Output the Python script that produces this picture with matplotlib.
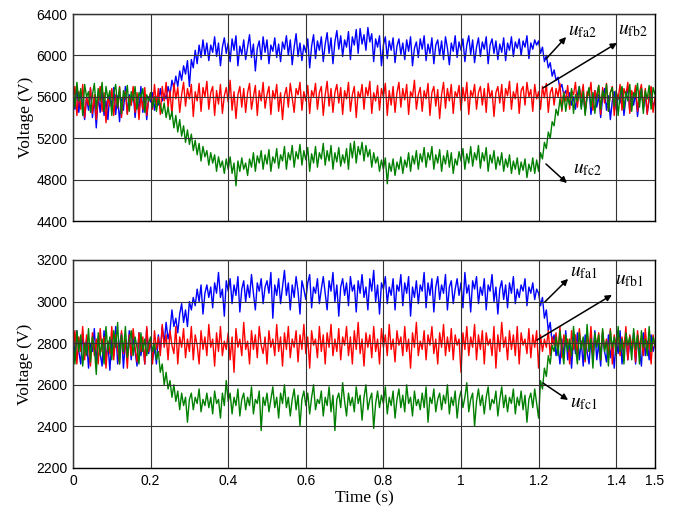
import numpy as np
import matplotlib
matplotlib.use("Agg")
import matplotlib.pyplot as plt

plt.rcParams['font.family'] = ['Liberation Sans', 'DejaVu Sans']
plt.rcParams['mathtext.fontset'] = 'stix'

# sample times (s), one sample every 5 ms
t = np.linspace(0, 1.5, 301)

# upper string capacitor voltages (V)
ufa2 = [
    5620, 5480, 5700, 5450, 5650, 5520, 5380, 5600, 5470, 5680,
    5400, 5590, 5300, 5620, 5450, 5660, 5420, 5560, 5380, 5640,
    5500, 5690, 5430, 5610, 5360, 5580, 5470, 5700, 5440, 5620,
    5520, 5660, 5400, 5590, 5480, 5700, 5450, 5620, 5380, 5600,
    5550, 5640, 5470, 5600, 5520, 5680, 5560, 5630, 5580, 5700,
    5620, 5760, 5680, 5800, 5700, 5850, 5760, 5900, 5820, 5950,
    5700, 5960, 5880, 6050, 5920, 6100, 5980, 6150, 6000, 6120,
    5950, 6100, 6030, 6180, 5990, 6120, 5900, 6080, 6170, 6020,
    6120, 5940, 6160, 6050, 6190, 5900, 6090, 6010, 6150, 5960,
    6080, 6200, 5980, 6110, 5850, 6070, 6140, 5960, 6180, 6030,
    6150, 5920, 6100, 6040, 6170, 5980, 6110, 5940, 6130, 6060,
    6190, 6000, 6150, 5910, 6080, 6210, 5990, 6120, 5950, 6100,
    6030, 6160, 5880, 6090, 6200, 5970, 6140, 6050, 6180, 5940,
    6110, 6220, 6020, 6170, 5920, 6130, 6240, 6060, 6190, 5990,
    6150, 6080, 6230, 5960, 6180, 6100, 6250, 6020, 6260, 6110,
    6200, 6050, 6270, 6130, 6210, 5940, 6160, 6080, 6190, 5900,
    6100, 6180, 5970, 6140, 6050, 6170, 5930, 6090, 6160, 6010,
    6120, 5960, 6150, 6040, 6180, 5900, 6070, 6130, 5980, 6160,
    6060, 6190, 5950, 6110, 6020, 6170, 5920, 6100, 6150, 6000,
    6140, 5960, 6180, 6070, 5910, 6120, 6040, 6190, 5980, 6130,
    6050, 6160, 5940, 6100, 6190, 6010, 6150, 5930, 6080, 6170,
    5990, 6130, 6060, 6180, 5920, 6100, 6160, 6020, 6140, 5960,
    6110, 6030, 6170, 5950, 6120, 6050, 6180, 5990, 6130, 6070,
    6160, 6000, 6140, 6080, 6190, 5970, 6120, 6060, 6150, 6100,
    6140, 6020, 6080, 5940, 6000, 5880, 5930, 5800, 5860, 5760,
    5790, 5680, 5720, 5620, 5660, 5560, 5640, 5520, 5600, 5480,
    5620, 5700, 5500, 5640, 5460, 5600, 5680, 5430, 5580, 5660,
    5500, 5620, 5400, 5590, 5680, 5470, 5610, 5380, 5560, 5650,
    5480, 5620, 5540, 5680, 5420, 5590, 5700, 5460, 5610, 5520,
    5640, 5410, 5590, 5680, 5480, 5620, 5440, 5570, 5690, 5500,
    5560,
]
ufb2 = [
    5560, 5700, 5420, 5650, 5480, 5720, 5400, 5600, 5520, 5690,
    5440, 5620, 5380, 5580, 5700, 5460, 5640, 5350, 5600, 5510,
    5680, 5420, 5620, 5490, 5700, 5400, 5590, 5650, 5430, 5600,
    5520, 5700, 5450, 5640, 5380, 5610, 5480, 5690, 5420, 5580,
    5640, 5480, 5720, 5520, 5680, 5430, 5700, 5560, 5740, 5500,
    5660, 5420, 5730, 5580, 5690, 5450, 5620, 5740, 5510, 5680,
    5580, 5720, 5410, 5650, 5560, 5730, 5460, 5690, 5600, 5750,
    5480, 5640, 5700, 5420, 5660, 5530, 5720, 5440, 5610, 5690,
    5550, 5760, 5470, 5650, 5390, 5620, 5700, 5500, 5680, 5450,
    5640, 5730, 5480, 5600, 5710, 5420, 5660, 5560, 5740, 5490,
    5620, 5700, 5430, 5660, 5580, 5720, 5460, 5640, 5380, 5610,
    5690, 5500, 5730, 5590, 5450, 5680, 5620, 5740, 5470, 5650,
    5560, 5710, 5440, 5660, 5600, 5730, 5480, 5640, 5700, 5420,
    5620, 5750, 5510, 5680, 5450, 5640, 5720, 5540, 5690, 5430,
    5660, 5580, 5740, 5460, 5620, 5700, 5400, 5650, 5590, 5720,
    5480, 5690, 5610, 5750, 5440, 5640, 5560, 5710, 5470, 5680,
    5600, 5730, 5420, 5660, 5520, 5700, 5450, 5640, 5740, 5500,
    5680, 5570, 5720, 5430, 5650, 5600, 5760, 5480, 5620, 5690,
    5460, 5660, 5580, 5730, 5420, 5640, 5700, 5510, 5670, 5390,
    5620, 5740, 5490, 5680, 5560, 5720, 5440, 5650, 5600, 5710,
    5470, 5690, 5560, 5740, 5430, 5660, 5600, 5720, 5480, 5640,
    5700, 5520, 5680, 5450, 5730, 5590, 5660, 5410, 5640, 5700,
    5540, 5720, 5460, 5680, 5610, 5750, 5480, 5650, 5580, 5730,
    5440, 5660, 5700, 5520, 5740, 5600, 5670, 5460, 5720, 5580,
    5650, 5480, 5700, 5590, 5730, 5450, 5640, 5690, 5520, 5680,
    5600, 5730, 5460, 5650, 5560, 5710, 5480, 5660, 5620, 5740,
    5500, 5680, 5590, 5720, 5440, 5650, 5610, 5740, 5470, 5660,
    5580, 5710, 5430, 5690, 5540, 5730, 5460, 5640, 5700, 5420,
    5650, 5580, 5720, 5470, 5680, 5610, 5740, 5440, 5660, 5590,
    5710, 5460, 5640, 5720, 5500, 5680, 5430, 5620, 5700, 5450,
    5600,
]
ufc2 = [
    5700, 5500, 5740, 5560, 5680, 5420, 5720, 5600, 5650, 5450,
    5620, 5730, 5480, 5680, 5560, 5740, 5460, 5700, 5580, 5660,
    5420, 5640, 5720, 5500, 5690, 5440, 5660, 5580, 5710, 5460,
    5650, 5560, 5700, 5480, 5640, 5600, 5680, 5450, 5620, 5560,
    5640, 5500, 5600, 5460, 5580, 5520, 5440, 5540, 5400, 5500,
    5380, 5460, 5300, 5420, 5260, 5380, 5220, 5320, 5160, 5280,
    5140, 5240, 5080, 5180, 5040, 5150, 4980, 5120, 5020, 5080,
    4940, 5060, 4960, 5040, 4880, 5020, 4920, 4980, 4860, 5000,
    4900, 5020, 4860, 4960, 4740, 4980, 4880, 5010, 4900, 4960,
    4840, 5000, 4920, 5060, 4880, 5030, 4960, 5080, 4900, 5040,
    4950, 5090, 4880, 5020, 4960, 5100, 4910, 5040, 4980, 5120,
    4900, 5060, 4990, 5130, 4920, 5070, 5000, 5140, 4940, 5080,
    4990, 5110, 4880, 5050, 4960, 5120, 4920, 5060, 5000, 5150,
    4940, 5080, 4980, 5130, 4900, 5060, 4970, 5110, 4930, 5040,
    4960, 5100, 4900, 5150, 5010, 5170, 4960, 5120, 5040, 5160,
    4980, 5130, 5020, 5090, 4920, 5060, 4960, 5020, 4880, 4990,
    4900, 5010, 4760, 4960, 4880, 5000, 4840, 4970, 4900, 5020,
    4860, 4990, 4920, 5060, 4880, 5030, 4950, 5080, 4900, 5050,
    4970, 5110, 4920, 5060, 4990, 5120, 4900, 5040, 4960, 5090,
    4880, 5030, 4950, 5080, 4920, 5060, 4860, 5000, 4940, 5070,
    4980, 5100, 4900, 5050, 4960, 5120, 4930, 5060, 4990, 5130,
    4910, 5060, 4980, 5110, 4880, 5040, 4960, 5080, 4900, 5020,
    4940, 5060, 4880, 5000, 4920, 5040, 4860, 4980, 4900, 5010,
    4850, 4970, 4890, 5000, 4820, 4950, 4880, 5010, 4860, 4990,
    4880, 5060, 5000, 5160, 5100, 5260, 5200, 5360, 5320, 5480,
    5420, 5580, 5480, 5640, 5460, 5600, 5520, 5680, 5440, 5620,
    5560, 5700, 5480, 5650, 5420, 5600, 5690, 5500, 5640, 5440,
    5620, 5710, 5480, 5660, 5580, 5720, 5460, 5640, 5690, 5510,
    5660, 5420, 5620, 5700, 5480, 5650, 5560, 5720, 5460, 5640,
    5600, 5730, 5500, 5680, 5440, 5660, 5580, 5710, 5480, 5690,
    5620,
]

# lower string capacitor voltages (V)
ufa1 = [
    2880, 2720, 2860, 2760, 2700, 2850, 2740, 2820, 2680, 2800,
    2760, 2870, 2700, 2830, 2750, 2690, 2860, 2720, 2800, 2670,
    2820, 2740, 2880, 2700, 2790, 2850, 2680, 2810, 2740, 2860,
    2720, 2830, 2760, 2690, 2850, 2740, 2800, 2700, 2870, 2750,
    2810, 2720, 2780, 2700, 2840, 2760, 2880, 2800, 2900, 2820,
    2860, 2960, 2880, 2920, 2850, 2940, 2990, 2900, 2960, 2880,
    3000, 2960, 3020, 2980, 3060, 3000, 3080, 2940, 3040, 3080,
    3020, 3070, 2970, 3090, 3040, 3140, 3020, 3060, 2930, 3100,
    3050, 3110, 2990, 3080, 3030, 3120, 2950, 3060, 3100, 3000,
    3080, 3020, 3130, 3040, 2960, 3090, 3050, 3110, 2990, 3070,
    3100, 3040, 3140, 2920, 3080, 3030, 3110, 2990, 3070, 3150,
    3030, 3090, 2960, 3080, 3020, 3120, 3050, 2940, 3100, 3060,
    3010, 3090, 3130, 2970, 3070, 3040, 3110, 2990, 3060, 3120,
    3040, 2960, 3100, 3050, 3140, 3000, 3080, 2930, 3070, 3110,
    3030, 3090, 2980, 3120, 3050, 3080, 2950, 3100, 3040, 3130,
    3020, 3070, 2960, 3110, 3050, 3150, 3000, 3080, 2940, 3090,
    3060, 3120, 2990, 3070, 3030, 3110, 2960, 3080, 3050, 3130,
    2980, 3090, 3040, 3120, 2930, 3070, 3020, 3100, 2990, 3080,
    3050, 3140, 2970, 3090, 3030, 3110, 2950, 3070, 3120, 3010,
    3080, 3040, 3130, 2960, 3070, 3100, 2990, 3060, 3110, 3030,
    3090, 2970, 3140, 3040, 3080, 2950, 3100, 3060, 3120, 2990,
    3070, 3030, 3110, 2960, 3080, 3050, 3130, 3000, 3070, 2940,
    3060, 3100, 3010, 3080, 2970, 3090, 3040, 3120, 2990, 3060,
    3020, 3080, 3050, 3110, 2980, 3070, 3040, 3090, 3010, 3060,
    3040, 2980, 3020, 2920, 2960, 2860, 2900, 2800, 2840, 2740,
    2790, 2700, 2820, 2740, 2860, 2720, 2800, 2680, 2830, 2750,
    2850, 2720, 2810, 2690, 2840, 2760, 2700, 2830, 2740, 2860,
    2720, 2800, 2690, 2850, 2760, 2710, 2840, 2730, 2800, 2680,
    2820, 2750, 2860, 2700, 2790, 2840, 2720, 2810, 2760, 2850,
    2700, 2830, 2770, 2690, 2850, 2740, 2810, 2720, 2840, 2760,
    2800,
]
ufb1 = [
    2760, 2860, 2700, 2830, 2760, 2880, 2720, 2840, 2780, 2690,
    2850, 2740, 2820, 2700, 2870, 2760, 2830, 2680, 2810, 2750,
    2880, 2720, 2840, 2770, 2700, 2860, 2750, 2820, 2680, 2840,
    2740, 2870, 2780, 2710, 2850, 2760, 2830, 2700, 2880, 2760,
    2820, 2700, 2860, 2770, 2830, 2740, 2890, 2780, 2840, 2720,
    2860, 2790, 2750, 2880, 2700, 2830, 2780, 2870, 2730, 2820,
    2760, 2880, 2720, 2840, 2790, 2700, 2860, 2770, 2830, 2740,
    2890, 2780, 2820, 2690, 2850, 2760, 2880, 2740, 2810, 2770,
    2850, 2720, 2830, 2660, 2870, 2780, 2820, 2740, 2900, 2770,
    2810, 2700, 2860, 2770, 2840, 2730, 2880, 2790, 2750, 2830,
    2700, 2860, 2780, 2820, 2740, 2890, 2760, 2830, 2690, 2850,
    2770, 2880, 2730, 2820, 2780, 2860, 2710, 2840, 2770, 2890,
    2750, 2830, 2680, 2860, 2790, 2820, 2730, 2880, 2760, 2840,
    2700, 2850, 2780, 2890, 2740, 2820, 2760, 2870, 2720, 2830,
    2790, 2880, 2740, 2830, 2700, 2860, 2770, 2900, 2750, 2820,
    2690, 2850, 2780, 2840, 2730, 2880, 2760, 2820, 2700, 2870,
    2780, 2840, 2740, 2890, 2770, 2820, 2710, 2860, 2790, 2830,
    2740, 2880, 2760, 2820, 2680, 2850, 2780, 2900, 2740, 2810,
    2770, 2860, 2720, 2840, 2790, 2880, 2750, 2820, 2700, 2850,
    2780, 2890, 2740, 2830, 2760, 2870, 2720, 2840, 2790, 2820,
    2660, 2850, 2770, 2880, 2740, 2830, 2780, 2890, 2720, 2840,
    2770, 2860, 2700, 2850, 2790, 2820, 2740, 2880, 2680, 2840,
    2760, 2900, 2780, 2830, 2720, 2860, 2770, 2840, 2740, 2880,
    2700, 2850, 2790, 2820, 2750, 2870, 2730, 2840, 2780, 2860,
    2680, 2840, 2760, 2820, 2780, 2860, 2740, 2830, 2790, 2850,
    2760, 2880, 2730, 2840, 2790, 2820, 2700, 2860, 2770, 2840,
    2740, 2870, 2780, 2820, 2710, 2850, 2760, 2880, 2730, 2830,
    2790, 2850, 2720, 2860, 2770, 2820, 2740, 2870, 2700, 2840,
    2780, 2860, 2740, 2830, 2770, 2880, 2720, 2840, 2790, 2820,
    2710, 2860, 2780, 2830, 2740, 2870, 2760, 2820, 2700, 2840,
    2780,
]
ufc1 = [
    2820, 2700, 2860, 2760, 2840, 2690, 2800, 2740, 2870, 2710,
    2830, 2780, 2650, 2850, 2740, 2820, 2700, 2880, 2760, 2830,
    2720, 2860, 2780, 2900, 2700, 2840, 2760, 2880, 2730, 2810,
    2860, 2740, 2830, 2780, 2700, 2850, 2760, 2820, 2740, 2800,
    2830, 2760, 2800, 2720, 2760, 2660, 2700, 2600, 2660, 2580,
    2620, 2540, 2600, 2520, 2570, 2480, 2560, 2500, 2540, 2420,
    2530, 2560, 2480, 2540, 2510, 2580, 2470, 2530, 2500, 2560,
    2490, 2540, 2460, 2570, 2510, 2530, 2440, 2560, 2500, 2620,
    2520, 2560, 2460, 2540, 2500, 2580, 2450, 2530, 2560, 2480,
    2540, 2500, 2590, 2460, 2530, 2510, 2570, 2380, 2540, 2500,
    2560, 2470, 2530, 2590, 2490, 2540, 2440, 2560, 2510, 2600,
    2490, 2540, 2450, 2530, 2580, 2480, 2550, 2400, 2530, 2570,
    2500, 2560, 2460, 2540, 2600, 2480, 2530, 2510, 2570, 2450,
    2540, 2500, 2590, 2470, 2550, 2380, 2530, 2560, 2490, 2610,
    2520, 2450, 2560, 2500, 2540, 2470, 2590, 2510, 2550, 2430,
    2540, 2600, 2480, 2530, 2560, 2390, 2510, 2570, 2490, 2550,
    2510, 2590, 2460, 2540, 2500, 2570, 2440, 2530, 2580, 2490,
    2550, 2470, 2600, 2510, 2540, 2450, 2570, 2500, 2530, 2480,
    2560, 2490, 2590, 2420, 2540, 2510, 2580, 2470, 2530, 2560,
    2480, 2550, 2510, 2600, 2460, 2540, 2500, 2570, 2440, 2530,
    2570, 2490, 2540, 2610, 2470, 2530, 2560, 2400, 2520, 2580,
    2500, 2550, 2460, 2540, 2590, 2480, 2530, 2510, 2570, 2450,
    2530, 2590, 2490, 2550, 2470, 2540, 2510, 2580, 2460, 2540,
    2500, 2570, 2480, 2550, 2420, 2530, 2560, 2490, 2580, 2510,
    2440, 2620, 2580, 2680, 2640, 2740, 2700, 2790, 2760, 2830,
    2740, 2860, 2780, 2700, 2840, 2760, 2820, 2740, 2880, 2780,
    2700, 2850, 2770, 2830, 2720, 2890, 2760, 2820, 2680, 2850,
    2780, 2840, 2720, 2870, 2760, 2810, 2690, 2860, 2780, 2830,
    2740, 2880, 2760, 2820, 2700, 2850, 2790, 2830, 2720, 2870,
    2770, 2840, 2700, 2860, 2780, 2820, 2740, 2880, 2760, 2830,
    2790,
]

x_ticks = [0, 0.2, 0.4, 0.6, 0.8, 1, 1.2, 1.4, 1.5]
x_labels = ['0', '0.2', '0.4', '0.6', '0.8', '1', '1.2', '1.4', '1.5']
top_ticks = [4400, 4800, 5200, 5600, 6000, 6400]
bot_ticks = [2200, 2400, 2600, 2800, 3000, 3200]

fig = plt.figure(figsize=(6.81, 5.14), dpi=100)
ax1 = fig.add_axes([0.1072, 0.570, 0.8546, 0.4027])
ax2 = fig.add_axes([0.1072, 0.0895, 0.8546, 0.4047])

serif = ['Liberation Serif', 'DejaVu Serif']

def setup(ax, yticks):
    ax.set_xlim(0, 1.5)
    ax.set_ylim(yticks[0], yticks[-1])
    ax.set_xticks(x_ticks)
    ax.set_yticks(yticks)
    ax.grid(True, color='#333333', linewidth=0.8)
    ax.set_axisbelow(False)
    ax.tick_params(length=0, labelsize=10, pad=4)
    ax.set_ylabel('Voltage (V)', family=serif, fontsize=12.5, labelpad=2)
    for s in ax.spines.values():
        s.set_linewidth(1.0)
        s.set_color('black')

for ax, series, yt in [(ax1, (ufa2, ufb2, ufc2), top_ticks),
                       (ax2, (ufa1, ufb1, ufc1), bot_ticks)]:
    for y, c in zip(series, ['#0000ff', '#ff0000', '#008000']):
        ax.plot(t, y, color=c, linewidth=1.0)
    setup(ax, yt)

ax1.set_xticklabels([])
ax2.set_xticklabels(x_labels)
ax2.set_xlabel('Time (s)', family=serif, fontsize=12.5, labelpad=2)

arrow = dict(arrowstyle='-|>', color='black', lw=1.1, mutation_scale=9,
             shrinkA=0, shrinkB=0)
txt = dict(fontsize=14, va='center', ha='left')

# labels for the upper string
ax1.annotate('', xy=(1.271, 6178), xytext=(1.219, 5965), arrowprops=arrow)
ax1.text(1.276, 6236, r'$u_{\mathrm{fa2}}$', **txt)
ax1.annotate('', xy=(1.402, 6120), xytext=(1.211, 5685), arrowprops=arrow)
ax1.text(1.405, 6245, r'$u_{\mathrm{fb2}}$', **txt)
ax1.annotate('', xy=(1.273, 4767), xytext=(1.219, 4951), arrowprops=arrow)
ax1.text(1.289, 4893, r'$u_{\mathrm{fc2}}$', **txt)

# labels for the lower string
ax2.annotate('', xy=(1.276, 3109), xytext=(1.216, 2998), arrowprops=arrow)
ax2.text(1.281, 3142, r'$u_{\mathrm{fa1}}$', **txt)
ax2.annotate('', xy=(1.389, 3032), xytext=(1.196, 2815), arrowprops=arrow)
ax2.text(1.397, 3099, r'$u_{\mathrm{fb1}}$', **txt)
ax2.annotate('', xy=(1.276, 2527), xytext=(1.211, 2609), arrowprops=arrow)
ax2.text(1.281, 2512, r'$u_{\mathrm{fc1}}$', **txt)

fig.savefig('out.png', dpi=100)
